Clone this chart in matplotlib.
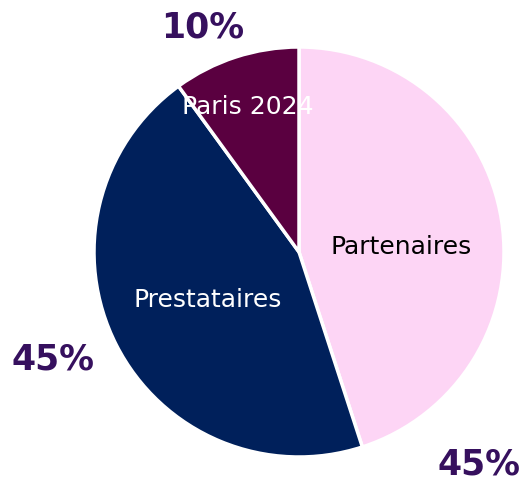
import matplotlib.pyplot as plt

# données
categories = ['Partenaires', 'Prestataires', 'Paris 2024']
valeurs = [45, 45, 10]
pourcentages = ['45%', '45%', '10%']
couleurs = ['#fdd5f5', '#00205b', '#5a0040']
couleurs_texte = ['black', 'white', 'white']

fig = plt.figure(figsize=(5.25, 4.81), dpi=100)
ax = fig.add_axes([0, 0, 1, 1])

wedges, textes = ax.pie(valeurs, colors=couleurs, startangle=90, counterclock=False,
                        labels=categories, labeldistance=0.5,
                        wedgeprops=dict(edgecolor='white', linewidth=2.5),
                        textprops=dict(fontsize=18, family='DejaVu Sans'))
for t, c in zip(textes, couleurs_texte):
    t.set_color(c)
    t.set_horizontalalignment('center')
# ajustements manuels des étiquettes
textes[0].set_position((0.50, 0.03))
textes[2].set_position((-0.25, 0.71))

# étiquettes de pourcentage à l'extérieur
positions_pct = [(0.88, -1.03), (-1.2, -0.52), (-0.47, 1.10)]
for (x, y), p in zip(positions_pct, pourcentages):
    ax.text(x, y, p, ha='center', va='center', fontsize=25, fontweight='bold',
            color='#36105e', family='DejaVu Sans')

ax.set_xlim(-299 / 205, 226 / 205)
ax.set_ylim(-228 / 205, 253 / 205)
ax.set_aspect('auto')
ax.axis('off')

fig.savefig('out.png', dpi=100)
